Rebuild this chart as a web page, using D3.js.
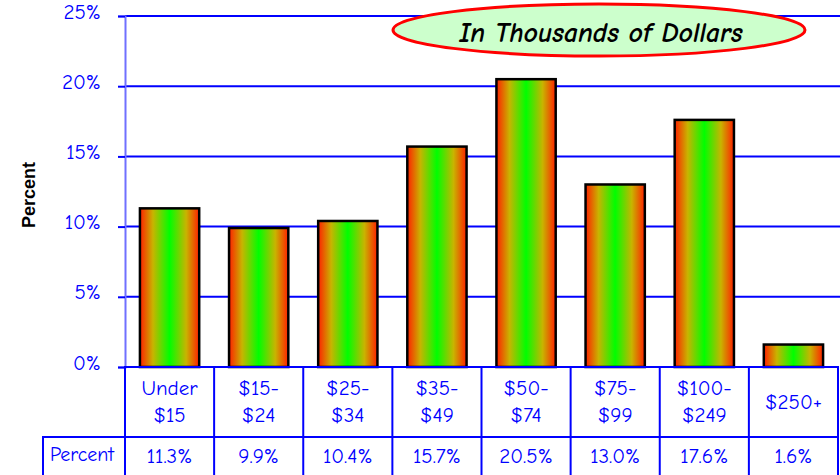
<!DOCTYPE html>
<html>
<head>
<meta charset="utf-8">
<script src="https://cdn.jsdelivr.net/npm/d3@7"></script>
<style>
  body { margin: 0; background: #fff; }
  svg text { font-family: "Comic Sans MS", "Comic Neue", "DejaVu Sans", sans-serif; }
</style>
</head>
<body>
<div id="chart"></div>
<script>
// data
var categories = [["Under", "$15"], ["$15-", "$24"], ["$25-", "$34"], ["$35-", "$49"],
                  ["$50-", "$74"], ["$75-", "$99"], ["$100-", "$249"], ["$250+"]];
var values = [11.3, 9.9, 10.4, 15.7, 20.5, 13.0, 17.6, 1.6];
var valueLabels = ["11.3%", "9.9%", "10.4%", "15.7%", "20.5%", "13.0%", "17.6%", "1.6%"];
var yTicks = [0, 5, 10, 15, 20, 25];

var width = 840, height = 475;
var plotLeft = 125, plotRight = 838, plotTop = 16, plotBase = 367;
var catBottom = 437, tableLeft = 43;
var blue = "#0000ff";

var svg = d3.select('#chart').append('svg')
    .attr('width', width)
    .attr('height', height);

var defs = svg.append('defs');
var grad = defs.append('linearGradient')
    .attr('id', 'barGrad')
    .attr('x1', '0%').attr('x2', '100%')
    .attr('y1', '0%').attr('y2', '0%');
grad.append('stop').attr('offset', '0%').attr('stop-color', '#ff2000');
grad.append('stop').attr('offset', '22%').attr('stop-color', '#c8b400');
grad.append('stop').attr('offset', '50%').attr('stop-color', '#00ff00');
grad.append('stop').attr('offset', '78%').attr('stop-color', '#c8b400');
grad.append('stop').attr('offset', '100%').attr('stop-color', '#ff2000');

var x = d3.scaleBand()
    .domain(d3.range(categories.length))
    .range([plotLeft, plotRight])
    .paddingInner(0.335)
    .paddingOuter(0.1675);

var y = d3.scaleLinear()
    .domain([0, 25])
    .range([plotBase, plotTop]);

// gridlines
svg.append('g').selectAll('line')
    .data(yTicks.slice(1))
    .enter().append('line')
    .attr('x1', plotLeft).attr('x2', width)
    .attr('y1', function(d) { return y(d); })
    .attr('y2', function(d) { return y(d); })
    .attr('stroke', blue)
    .attr('stroke-width', 2);

// y axis
var yAxis = d3.axisLeft(y)
    .tickValues(yTicks)
    .tickSize(7)
    .tickFormat(function(d) { return d + '%'; });
var ya = svg.append('g')
    .attr('transform', 'translate(' + plotLeft + ',0)')
    .call(yAxis);
ya.select('.domain').attr('stroke', '#7070ff').attr('stroke-width', 2);
ya.selectAll('.tick line').attr('stroke', blue).attr('stroke-width', 2);
ya.selectAll('.tick text')
    .attr('x', -24)
    .attr('dy', '0.1em')
    .attr('fill', blue)
    .style('font-size', '21px');

// bars
svg.append('g').selectAll('rect')
    .data(values)
    .enter().append('rect')
    .attr('x', function(d, i) { return x(i); })
    .attr('y', function(d) { return y(d); })
    .attr('width', x.bandwidth())
    .attr('height', function(d) { return plotBase - y(d); })
    .attr('fill', 'url(#barGrad)')
    .attr('stroke', '#000')
    .attr('stroke-width', 2.5);

// y label
svg.append('text')
    .attr('transform', 'translate(35,195) rotate(-90)')
    .attr('text-anchor', 'middle')
    .style('font-family', '"Liberation Sans", Arial, sans-serif')
    .style('font-size', '18px')
    .style('font-weight', 'bold')
    .text('Percent');

// ellipse note
svg.append('ellipse')
    .attr('cx', 599).attr('cy', 30)
    .attr('rx', 206).attr('ry', 26)
    .attr('fill', '#ccffcc')
    .attr('stroke', '#ff0000')
    .attr('stroke-width', 3);
svg.append('text')
    .attr('x', 601).attr('y', 42)
    .attr('text-anchor', 'middle')
    .style('font-size', '27.5px')
    .style('font-weight', 'bold')
    .style('font-style', 'italic')
    .text('In Thousands of Dollars');

// category table
var colW = (plotRight - plotLeft) / categories.length;
var table = svg.append('g');
table.append('rect')
    .attr('x', plotLeft).attr('y', plotBase)
    .attr('width', plotRight - plotLeft).attr('height', catBottom - plotBase)
    .attr('fill', 'none').attr('stroke', blue).attr('stroke-width', 2);
table.append('rect')
    .attr('x', tableLeft).attr('y', catBottom)
    .attr('width', plotRight - tableLeft).attr('height', 40)
    .attr('fill', 'none').attr('stroke', blue).attr('stroke-width', 2);
table.selectAll('line.col')
    .data(d3.range(1, categories.length + 1))
    .enter().append('line')
    .attr('class', 'col')
    .attr('x1', function(i) { return plotLeft + i * colW; })
    .attr('x2', function(i) { return plotLeft + i * colW; })
    .attr('y1', plotBase).attr('y2', height)
    .attr('stroke', blue).attr('stroke-width', 2);
table.append('line')
    .attr('x1', plotLeft).attr('x2', plotLeft)
    .attr('y1', catBottom).attr('y2', height)
    .attr('stroke', blue).attr('stroke-width', 2);

var catText = table.selectAll('text.cat')
    .data(categories)
    .enter().append('text')
    .attr('class', 'cat')
    .attr('text-anchor', 'middle')
    .attr('fill', blue)
    .style('font-size', '21px')
    .attr('x', function(d, i) { return x(i) + x.bandwidth() / 2; })
    .attr('y', function(d) { return d.length > 1 ? 395 : 409; });
catText.selectAll('tspan')
    .data(function(d) { return d; })
    .enter().append('tspan')
    .attr('x', function() { return d3.select(this.parentNode).attr('x'); })
    .attr('dy', function(d, j) { return j ? 27 : 0; })
    .text(function(d) { return d; });

table.selectAll('text.val')
    .data(valueLabels)
    .enter().append('text')
    .attr('class', 'val')
    .attr('text-anchor', 'middle')
    .attr('fill', blue)
    .style('font-size', '21px')
    .attr('x', function(d, i) { return x(i) + x.bandwidth() / 2; })
    .attr('y', 463)
    .text(function(d) { return d; });

table.append('text')
    .attr('x', 82).attr('y', 461)
    .attr('text-anchor', 'middle')
    .attr('fill', blue)
    .style('font-size', '20px')
    .text('Percent');
</script>
</body>
</html>
